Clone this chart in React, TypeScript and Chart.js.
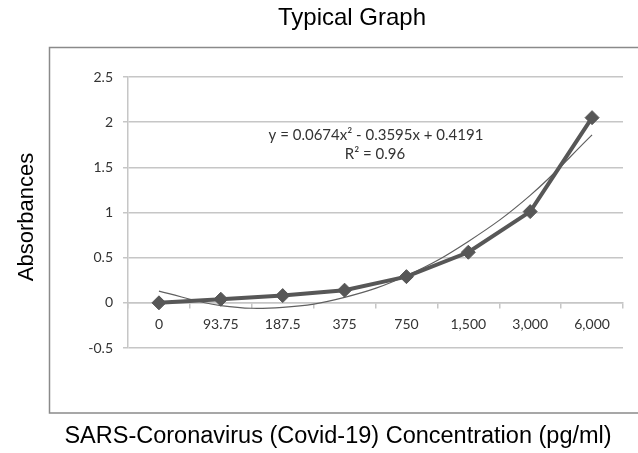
import React, { useEffect, useRef } from "react";
import { Chart, registerables } from "chart.js";

Chart.register(...registerables);

const categories = ["0", "93.75", "187.5", "375", "750", "1,500", "3,000", "6,000"];
const absorbances = [0, 0.04, 0.08, 0.14, 0.29, 0.56, 1.01, 2.05];
const trendline = [0.13, -0.03, -0.05, 0.06, 0.3, 0.68, 1.19, 1.86];
const yTickValues = [-0.5, 0, 0.5, 1, 1.5, 2, 2.5];
const yTickLabels = ["-0.5", "0", "0.5", "1", "1.5", "2", "2.5"];
const chartTitle = "Typical Graph";
const yTitle = "Absorbances";
const xTitle = "SARS-Coronavirus (Covid-19) Concentration (pg/ml)";
const equationLines = ["y = 0.0674x² - 0.3595x + 0.4191", "R² = 0.96"];

const tickFont = "Lato, 'Open Sans', sans-serif";
const outerFont = "'Liberation Sans', Arial, sans-serif";
const gridColor = "#c6c6c6";

const decorPlugin = {
  id: "decor",
  beforeDraw(chart: any) {
    const ctx = chart.ctx;
    ctx.save();
    ctx.fillStyle = "#ffffff";
    ctx.fillRect(0, 0, chart.width, chart.height);
    ctx.strokeStyle = "#8a8a8a";
    ctx.lineWidth = 1.5;
    ctx.strokeRect(49.5, 47.5, 640, 365.5);
    ctx.restore();
  },
  afterDraw(chart: any) {
    const ctx = chart.ctx;
    ctx.save();
    ctx.fillStyle = "#000000";
    ctx.textAlign = "center";
    ctx.textBaseline = "middle";
    ctx.font = `24px ${outerFont}`;
    ctx.fillText(chartTitle, 352, 18);
    ctx.font = `23.5px ${outerFont}`;
    ctx.fillText(xTitle, 338, 437);
    ctx.save();
    ctx.translate(27, 217);
    ctx.rotate(-Math.PI / 2);
    ctx.font = `22px ${outerFont}`;
    ctx.fillText(yTitle, 0, 0);
    ctx.restore();
    // trendline label
    ctx.fillStyle = "#333333";
    ctx.font = `15px ${tickFont}`;
    ctx.fillText(equationLines[0], 376, 135);
    ctx.fillText(equationLines[1], 375, 154);
    ctx.restore();
  },
};

export default function App() {
  const ref = useRef<HTMLCanvasElement | null>(null);
  useEffect(() => {
    if (!ref.current) return;
    const chart = new Chart(ref.current, {
      type: "line",
      data: {
        labels: categories,
        datasets: [
          {
            label: "Absorbance",
            data: absorbances,
            borderColor: "#575757",
            backgroundColor: "#575757",
            borderWidth: 4,
            pointStyle: "rectRot",
            pointRadius: 7,
            pointBorderWidth: 1,
            pointBackgroundColor: "#575757",
            pointBorderColor: "#575757",
            tension: 0,
            order: 1,
          },
          {
            label: "Trend",
            data: trendline,
            borderColor: "#606060",
            borderWidth: 1.2,
            pointRadius: 0,
            tension: 0.4,
            fill: false,
            order: 2,
          },
        ],
      },
      options: {
        responsive: false,
        animation: false,
        layout: { padding: { left: 68, top: 77, right: 15, bottom: 105 } },
        plugins: {
          legend: { display: false },
          title: { display: false },
          tooltip: { enabled: false },
        },
        scales: {
          x: {
            type: "category",
            position: { y: 0 } as any,
            offset: true,
            grid: {
              offset: true,
              drawOnChartArea: false,
              drawTicks: true,
              tickLength: 5,
              color: gridColor,
              lineWidth: 1.5,
            },
            border: { display: true, color: gridColor, width: 1.5 },
            ticks: {
              color: "#333333",
              font: { family: tickFont, size: 14 },
              padding: 8,
              maxRotation: 0,
              autoSkip: false,
            },
          },
          y: {
            min: -0.5,
            max: 2.5,
            afterFit: (scale: any) => {
              scale.width = 60;
            },
            afterBuildTicks: (scale: any) => {
              scale.ticks = yTickValues.map((v) => ({ value: v }));
            },
            grid: {
              color: gridColor,
              lineWidth: 1.5,
              tickLength: 5,
            },
            border: { display: true, color: gridColor, width: 1.5 },
            ticks: {
              color: "#333333",
              font: { family: tickFont, size: 14 },
              padding: 10,
              callback: (v: any) => {
                const i = yTickValues.indexOf(Number(v));
                return i >= 0 ? yTickLabels[i] : "";
              },
            },
          },
        },
      },
      plugins: [decorPlugin],
    });
    return () => chart.destroy();
  }, []);
  return (
    <div style={{ position: "absolute", left: 0, top: 0, width: 638, height: 453 }}>
      <canvas ref={ref} width={638} height={453} style={{ width: 638, height: 453, display: "block" }} />
    </div>
  );
}
